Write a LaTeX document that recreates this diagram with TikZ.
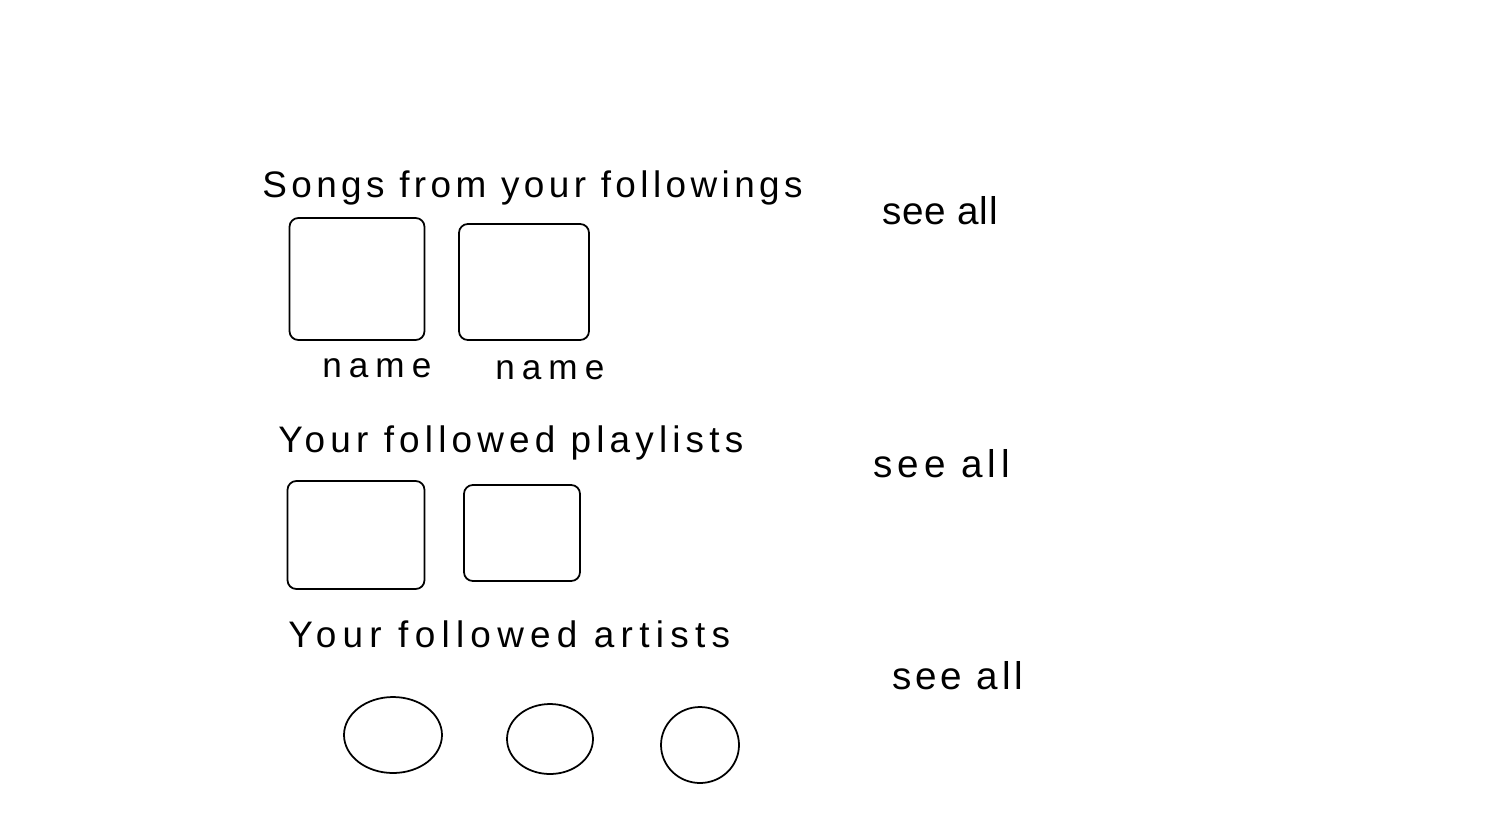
\documentclass[tikz,border=0pt]{standalone}
\usepackage{fontspec}
\setmainfont{Liberation Sans}
\usetikzlibrary{shapes.geometric}
\tikzstyle{title-node}=[anchor=base west,inner sep=0pt,font=\fontsize{21}{24}\selectfont\addfontfeatures{LetterSpace=12}]
\tikzstyle{link-node}=[anchor=base west,inner sep=0pt,font=\fontsize{22}{24}\selectfont\addfontfeatures{LetterSpace=10}]
\tikzstyle{label-node}=[anchor=base west,inner sep=0pt,font=\fontsize{20}{24}\selectfont\addfontfeatures{LetterSpace=20}]
\tikzstyle{cover-node}=[draw=black,line width=1pt,rounded corners=5pt,inner sep=0pt]
\tikzstyle{artist-node}=[draw=black,line width=1pt,ellipse,inner sep=0pt]

\begin{document}
\begin{tikzpicture}[x=0.02cm,y=-0.02cm]
	\useasboundingbox (0,0) rectangle (1511,819);
	\begin{scope}
	% songs row
	\node (t1)[title-node] at (262,197) {Songs from your followings};
	\node (s1)[link-node,font=\fontsize{22}{24}\selectfont\addfontfeatures{LetterSpace=2}] at (882,224) {see all};
	\node (c1)[cover-node,minimum width=2.7cm,minimum height=2.44cm] at (357,279) {};
	\node (c2)[cover-node,minimum width=2.6cm,minimum height=2.32cm] at (524,282) {};
	\node (n1)[label-node] at (322,377) {name};
	\node (n2)[label-node] at (495,379) {name};
	\end{scope}
	
	\begin{scope}
	% playlists row
	\node (t2)[title-node,font=\fontsize{21}{24}\selectfont\addfontfeatures{LetterSpace=14}] at (278,452) {Your followed playlists};
	\node (s2)[link-node,font=\fontsize{22}{24}\selectfont\addfontfeatures{LetterSpace=13}] at (873,477) {see all};
	\node (p1)[cover-node,minimum width=2.74cm,minimum height=2.16cm] at (356,535) {};
	\node (p2)[cover-node,minimum width=2.32cm,minimum height=1.92cm] at (522,533) {};
	\end{scope}
	
	\begin{scope}
	% artists row
	\node (t3)[title-node,font=\fontsize{21}{24}\selectfont\addfontfeatures{LetterSpace=17}] at (288,647) {Your followed artists};
	\node (s3)[link-node] at (892,689) {see all};
	\node (a1)[artist-node,minimum width=1.96cm,minimum height=1.52cm] at (393,735) {};
	\node (a2)[artist-node,minimum width=1.72cm,minimum height=1.40cm] at (550,739) {};
	\node (a3)[artist-node,minimum width=1.56cm,minimum height=1.52cm] at (700,745) {};
	\end{scope}
\end{tikzpicture}
\end{document}
